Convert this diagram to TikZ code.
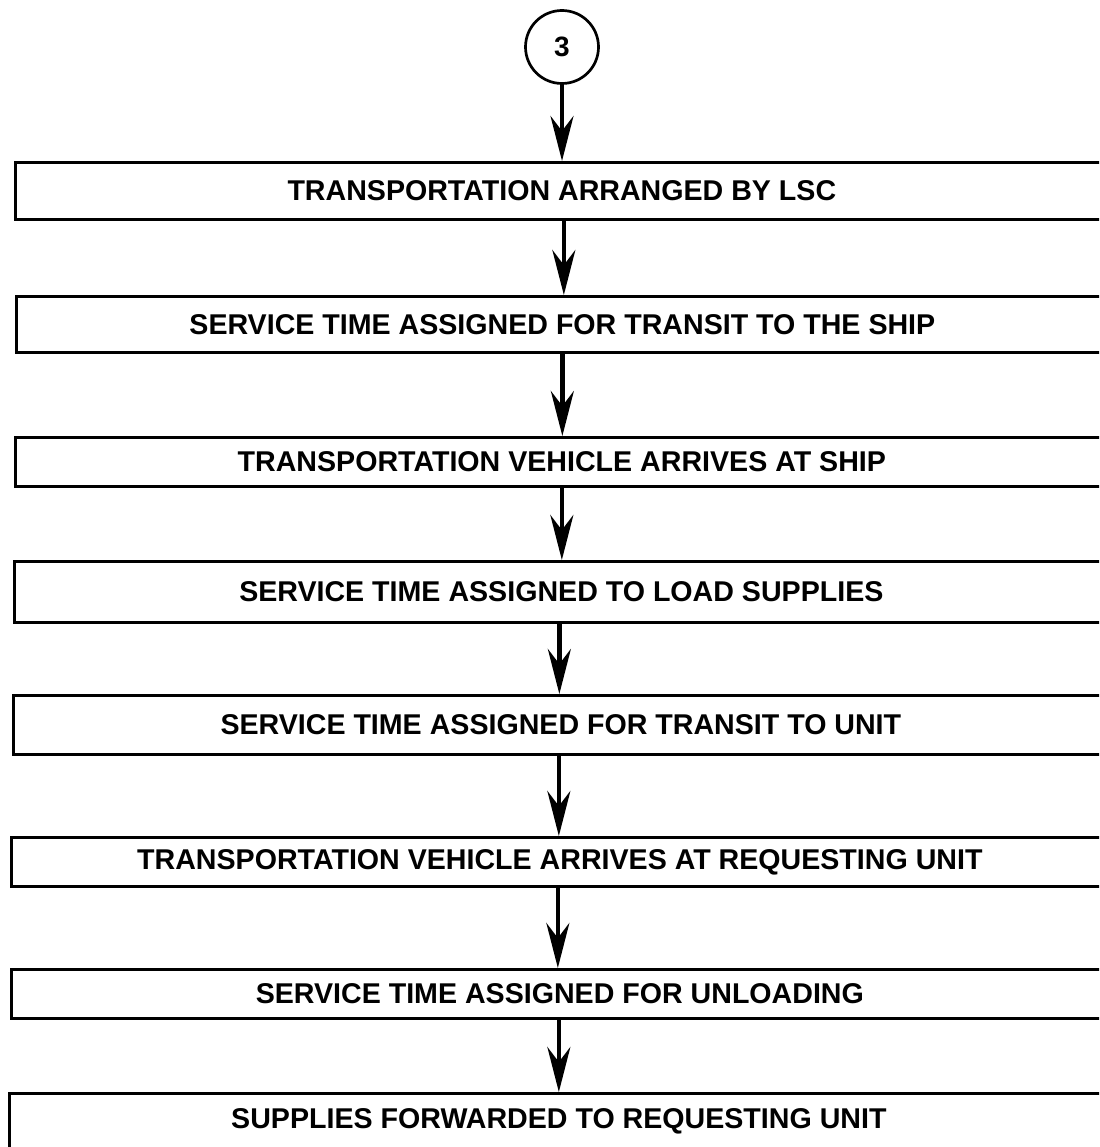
\documentclass[tikz,border=0pt]{standalone}
\usepackage{fontspec}
\setmainfont{Liberation Sans}
\usetikzlibrary{arrows.meta}
\begin{document}
\begin{tikzpicture}[x=1pt,y=-1pt,
  box/.style={draw, line width=2.7pt, anchor=north west, inner sep=0pt,
    font=\fontsize{28.6}{32}\selectfont\bfseries},
  conn/.style={draw, circle, line width=2.7pt, minimum size=73pt, inner sep=0pt,
    font=\fontsize{28}{32}\selectfont\bfseries},
  flow/.style={line width=4.3pt, -{Stealth[length=45pt,width=23pt,inset=15pt]}}]
\useasboundingbox (0,0) rectangle (1099,1147);
\clip (0,0) rectangle (1099,1147);
\node[conn] (c) at (562,47) {3};
\node[box, minimum width=1093pt, minimum height=57pt] (b1) at (14,161) {TRANSPORTATION ARRANGED BY LSC};
\node[box, minimum width=1092pt, minimum height=56pt] (b2) at (15,295) {SERVICE TIME ASSIGNED FOR TRANSIT TO THE SHIP};
\node[box, minimum width=1093pt, minimum height=49pt] (b3) at (14,436) {TRANSPORTATION VEHICLE ARRIVES AT SHIP};
\node[box, minimum width=1094pt, minimum height=61pt] (b4) at (13,560) {SERVICE TIME ASSIGNED TO LOAD SUPPLIES};
\node[box, minimum width=1095pt, minimum height=59pt] (b5) at (12,694) {SERVICE TIME ASSIGNED FOR TRANSIT TO UNIT};
\node[box, minimum width=1097pt, minimum height=49pt] (b6) at (10,836) {TRANSPORTATION VEHICLE ARRIVES AT REQUESTING UNIT};
\node[box, minimum width=1097pt, minimum height=49pt] (b7) at (10,968) {SERVICE TIME ASSIGNED FOR UNLOADING};
\node[box, minimum width=1099pt, minimum height=55pt] (b8) at (8,1092) {SUPPLIES FORWARDED TO REQUESTING UNIT};
\draw[flow] (c.south) -- (c.south |- b1.north);
\draw[flow] ([xshift=2pt]b1.south) -- ([xshift=2pt]b1.south |- b2.north);
\draw[flow] ([xshift=0pt]b2.south) -- ([xshift=0pt]b2.south |- b3.north);
\draw[flow] ([xshift=0pt]b3.south) -- ([xshift=0pt]b3.south |- b4.north);
\draw[flow] ([xshift=-2pt]b4.south) -- ([xshift=-2pt]b4.south |- b5.north);
\draw[flow] ([xshift=-2pt]b5.south) -- ([xshift=-2pt]b5.south |- b6.north);
\draw[flow] ([xshift=-2pt]b6.south) -- ([xshift=-2pt]b6.south |- b7.north);
\draw[flow] ([xshift=-1pt]b7.south) -- ([xshift=-1pt]b7.south |- b8.north);
\end{tikzpicture}
\end{document}
